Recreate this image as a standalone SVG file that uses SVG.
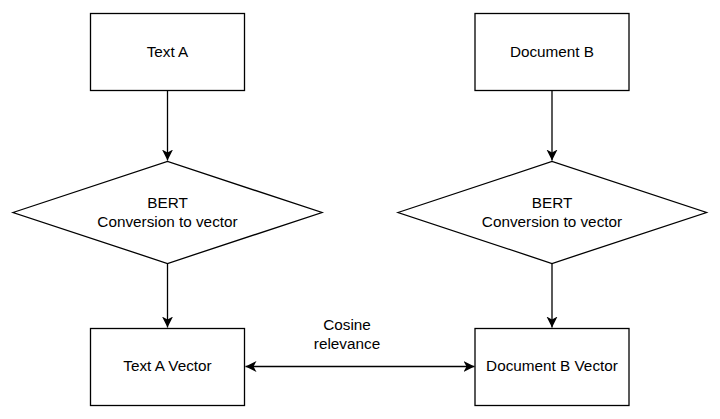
<svg xmlns="http://www.w3.org/2000/svg" width="720" height="419" viewBox="0 0 720 419">
<defs>
<marker id="ah" viewBox="0 0 12 12" refX="11" refY="6" markerWidth="12" markerHeight="12" markerUnits="userSpaceOnUse" orient="auto-start-reverse">
<path d="M0,0.5 L11,6 L0,11.5 L3,6 Z" fill="#000"/>
</marker>
</defs>
<style>
.shape{fill:#fff;stroke:#000;stroke-width:1.3}
.edge{fill:none;stroke:#000;stroke-width:1.3}
text{font-family:"Liberation Sans",Arial,sans-serif;font-size:15.3px;fill:#000;text-anchor:middle}
</style>
<rect width="720" height="419" fill="#fff"/>
<g id="connectors">
<line class="edge" x1="167.5" y1="90.5" x2="167.5" y2="160.5" marker-end="url(#ah)"/>
<line class="edge" x1="167.5" y1="263.5" x2="167.5" y2="327.5" marker-end="url(#ah)"/>
<line class="edge" x1="552" y1="90.5" x2="552" y2="160.5" marker-end="url(#ah)"/>
<line class="edge" x1="552" y1="263.5" x2="552" y2="327.5" marker-end="url(#ah)"/>
<line class="edge" x1="245.5" y1="366.5" x2="474.5" y2="366.5" marker-start="url(#ah)" marker-end="url(#ah)"/>
<text x="347" y="330">Cosine</text>
<text x="347" y="349">relevance</text>
</g>
<g id="textA">
<rect class="shape" x="90.5" y="13.5" width="154" height="77"/>
<text x="167.5" y="57">Text A</text>
</g>
<g id="docB">
<rect class="shape" x="475" y="13.5" width="154" height="77"/>
<text x="552" y="57">Document B</text>
</g>
<g id="bertA">
<polygon class="shape" points="13,212.5 167.5,161.5 322,212.5 167.5,263.5"/>
<text x="167.5" y="208">BERT</text>
<text x="167.5" y="227">Conversion to vector</text>
</g>
<g id="bertB">
<polygon class="shape" points="398,212.5 552,161.5 706.5,212.5 552,263.5"/>
<text x="552" y="208">BERT</text>
<text x="552" y="227">Conversion to vector</text>
</g>
<g id="vecA">
<rect class="shape" x="90.5" y="328.5" width="154" height="77"/>
<text x="167.5" y="371">Text A Vector</text>
</g>
<g id="vecB">
<rect class="shape" x="475" y="328.5" width="154" height="77"/>
<text x="552" y="371">Document B Vector</text>
</g>
</svg>
